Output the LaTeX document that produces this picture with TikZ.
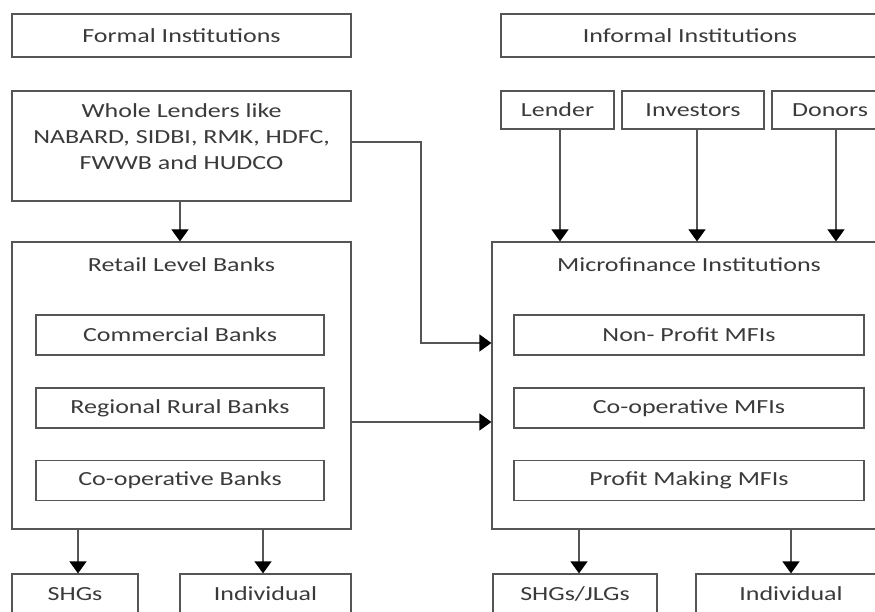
\documentclass[tikz,border=0pt]{standalone}
\usepackage{fontspec}
\setmainfont{Carlito}[FakeStretch=1.3]
\usepackage{tikz}
\usetikzlibrary{arrows.meta}
\definecolor{linegray}{HTML}{555555}
\definecolor{textgray}{HTML}{3A3A3A}

\begin{document}
\begin{tikzpicture}[x=1pt,y=-1pt,
		box/.style={draw=linegray, line width=1.2pt, text=textgray, inner sep=0pt},
		label/.style={text=textgray, align=center, inner sep=0pt},
		flow/.style={draw=linegray, line width=1.2pt, -{Triangle[length=12pt,width=17pt,black]}}]
				\useasboundingbox (0,0) rectangle (875,612);
				\clip (0,0) rectangle (875,612);
				\fontsize{20}{26}\selectfont

				% top row
				\node[box, minimum width=339pt, minimum height=43pt] (formal) at (181.5,35.5) {Formal Institutions};
				\node[box, minimum width=378pt, minimum height=43pt] (informal) at (690,35.5) {Informal Institutions};

				\node[box, minimum width=339pt, minimum height=110pt] (whole) at (181.5,146) {};
				\node[label] (wholetxt) at (181.5,137) {Whole Lenders like\\NABARD, SIDBI, RMK, HDFC,\\FWWB and HUDCO};

				\node[box, minimum width=113pt, minimum height=38pt] (lender) at (557.5,110) {Lender};
				\node[box, minimum width=142pt, minimum height=38pt] (investors) at (693,110) {Investors};
				\node[box, minimum width=116pt, minimum height=38pt] (donors) at (830,110) {Donors};

				% banks and MFIs
				\node[box, minimum width=339pt, minimum height=287pt] (retail) at (181.5,385.5) {};
				\node[label] (retailtxt) at (181.5,265) {Retail Level Banks};
				\node[box, minimum width=394pt, minimum height=287pt] (mfi) at (689,385.5) {};
				\node[label] (mfitxt) at (689,265) {Microfinance Institutions};

				\node[box, minimum width=288pt, minimum height=40pt] (commercial) at (180,335) {Commercial Banks};
				\node[box, minimum width=288pt, minimum height=40pt] (regional) at (180,408) {Regional Rural Banks};
				\node[box, minimum width=288pt, minimum height=40pt] (coopbank) at (180,480.5) {Co-operative Banks};

				\node[box, minimum width=350pt, minimum height=40pt] (nonprofit) at (689,335) {Non- Profit MFIs};
				\node[box, minimum width=350pt, minimum height=40pt] (coopmfi) at (689,408) {Co-operative MFIs};
				\node[box, minimum width=350pt, minimum height=40pt] (profit) at (689,480.5) {Profit Making MFIs};

				% bottom row
				\node[box, minimum width=126pt, minimum height=40pt] (shgs) at (75,594) {SHGs};
				\node[box, minimum width=171pt, minimum height=40pt] (indiva) at (265.5,594) {Individual};
				\node[box, minimum width=164pt, minimum height=40pt] (shgsjlgs) at (575,594) {SHGs/JLGs};
				\node[box, minimum width=190pt, minimum height=40pt] (indivb) at (791,594) {Individual};

				% arrows
				\draw[flow] (whole.south -| 180,0) -- (retail.north -| 180,0);
				\foreach \n/\x in {lender/560,investors/697,donors/836}
				\draw[flow] (\n.south -| \x,0) -- (mfi.north -| \x,0);

				\coordinate (kneea) at (421,142);
				\coordinate (kneeb) at (421,343);
				\draw[flow] (kneea -| whole.east) -- (kneea) -- (kneeb) -- (kneeb -| mfi.west);
				\coordinate (midc) at (421,422);
				\draw[flow] (midc -| retail.east) -- (midc -| mfi.west);

				\draw[flow] (retail.south -| 78,0) -- (shgs.north -| 78,0);
				\draw[flow] (retail.south -| 263,0) -- (indiva.north -| 263,0);
				\draw[flow] (mfi.south -| 579,0) -- (shgsjlgs.north -| 579,0);
				\draw[flow] (mfi.south -| indivb.north) -- (indivb.north);
\end{tikzpicture}
\end{document}
